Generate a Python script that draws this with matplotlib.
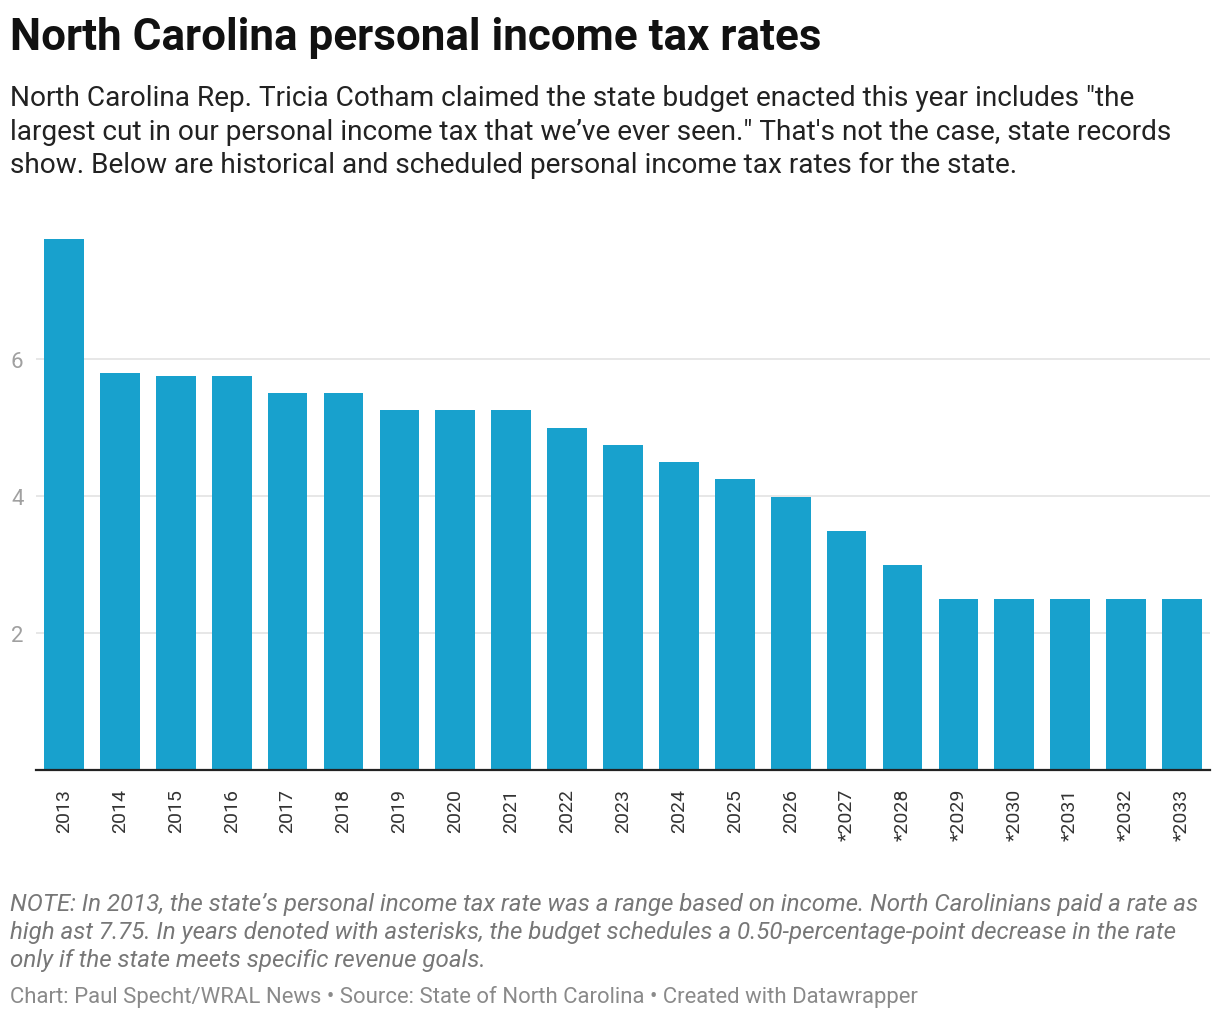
import numpy as np
import matplotlib.pyplot as plt

plt.rcParams['font.family'] = ['Roboto', 'DejaVu Sans']

years = ['2013', '2014', '2015', '2016', '2017', '2018', '2019', '2020', '2021', '2022',
         '2023', '2024', '2025', '2026', '*2027', '*2028', '*2029', '*2030', '*2031',
         '*2032', '*2033']
rates = [7.75, 5.8, 5.75, 5.75, 5.499, 5.499, 5.25, 5.25, 5.25, 4.99,
         4.75, 4.5, 4.25, 3.99, 3.49, 2.99, 2.49, 2.49, 2.49, 2.49, 2.49]
yticks = [2, 4, 6]

fig = plt.figure(figsize=(12.2, 10.2), dpi=100)
ax = fig.add_axes([36/1220, 1-771/1020, (1210-36)/1220, (771-240)/1020])

x = np.arange(len(years))
ax.bar(x, rates, width=0.71, color='#18a1cd', zorder=2)
ax.set_xlim(-0.5, len(years) - 0.5)
ax.set_ylim(0, 7.75)

ax.set_yticks(yticks)
ax.yaxis.grid(True, color='#e3e3e3', lw=1.2, zorder=0)
ax.tick_params(axis='y', length=0, pad=9, labelsize=16, labelcolor='#a0a0a0')
ax.set_xticks(x)
ax.set_xticklabels(years, rotation=90, fontsize=14, color='#333333')
ax.tick_params(axis='x', length=0, pad=13)
for s in ['top', 'right', 'left']:
    ax.spines[s].set_visible(False)
ax.spines['bottom'].set_color('#222222')
ax.spines['bottom'].set_linewidth(1.6)
ax.spines['bottom'].set_zorder(3)

fig.text(10/1220, 1-38/1020, 'North Carolina personal income tax rates', fontsize=31.7,
         fontweight='bold', color='#111111', va='center')
fig.text(10/1220, 1-85/1020,
         'North Carolina Rep. Tricia Cotham claimed the state budget enacted this year includes "the\n'
         'largest cut in our personal income tax that we\u2019ve ever seen." That\'s not the case, state records\n'
         'show. Below are historical and scheduled personal income tax rates for the state.',
         fontsize=20.15, color='#222222', va='top', linespacing=1.31)
fig.text(10/1220, 1-893/1020,
         'NOTE: In 2013, the state\u2019s personal income tax rate was a range based on income. North Carolinians paid a rate as\n'
         'high ast 7.75. In years denoted with asterisks, the budget schedules a 0.50-percentage-point decrease in the rate\n'
         'only if the state meets specific revenue goals.',
         fontsize=17.35, style='italic', color='#777777', va='top', linespacing=1.28)
fig.text(10/1220, 1-997/1020,
         'Chart: Paul Specht/WRAL News \u2022 Source: State of North Carolina \u2022 Created with Datawrapper',
         fontsize=15.9, color='#8a8a8a', va='center')

fig.savefig('out.png', dpi=100)
